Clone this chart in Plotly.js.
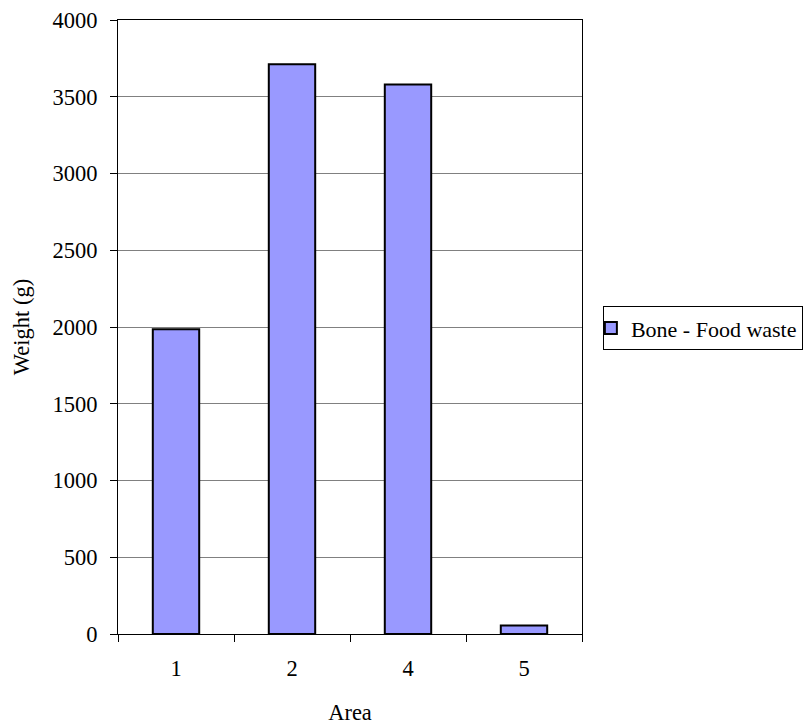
<!DOCTYPE html>
<html>
<head>
<meta charset="utf-8">
<script src="https://cdn.plot.ly/plotly-3.0.1.min.js"></script>
<style>html,body{margin:0;padding:0;background:#fff;}#chart{width:806px;height:726px;}</style>
</head>
<body>
<div id="chart"></div>
<script>
const categories = ["1", "2", "4", "5"];
const boneFoodWaste = [1985, 3712, 3580, 55];
const seriesName = "Bone - Food waste";
const yTicks = [0, 500, 1000, 1500, 2000, 2500, 3000, 3500, 4000];

const font = {family: "Liberation Serif", size: 22.5, color: "#000"};
const legendFont = {family: "Liberation Serif", size: 22, color: "#000"};

Plotly.newPlot("chart", [{
  type: "bar",
  x: categories,
  y: boneFoodWaste,
  name: seriesName,
  showlegend: true,
  marker: {color: "#9999ff", line: {color: "#000", width: 2}}
}], {
  width: 806, height: 726,
  margin: {l: 118, r: 224, t: 20, b: 92, autoexpand: false},
  paper_bgcolor: "#fff", plot_bgcolor: "#fff",
  font: font,
  bargap: 0.6,
  showlegend: true,
  legend: {x: 1.045, xanchor: "left", y: 0.498, yanchor: "middle", indentation: -13,
    bordercolor: "#000", borderwidth: 1, font: legendFont, itemwidth: 30},
  xaxis: {type: "category", showline: true, linecolor: "#000", linewidth: 1,
    mirror: true, ticks: "outside", ticklen: 7, tickcolor: "#000",
    tickson: "boundaries", ticklabelstandoff: 14, showgrid: false, automargin: false,
    title: {text: "Area", font: font, standoff: 24}},
  yaxis: {range: [0, 4000], tickvals: yTicks, showline: true, linecolor: "#000", linewidth: 1,
    mirror: true, ticks: "outside", ticklen: 7, tickcolor: "#000", ticklabelstandoff: 8,
    showgrid: true, gridcolor: "#808080", gridwidth: 1, zeroline: false, automargin: false,
    title: {text: "Weight (g)", font: font, standoff: 16}}
}, {displayModeBar: false, staticPlot: true});
</script>
</body>
</html>
